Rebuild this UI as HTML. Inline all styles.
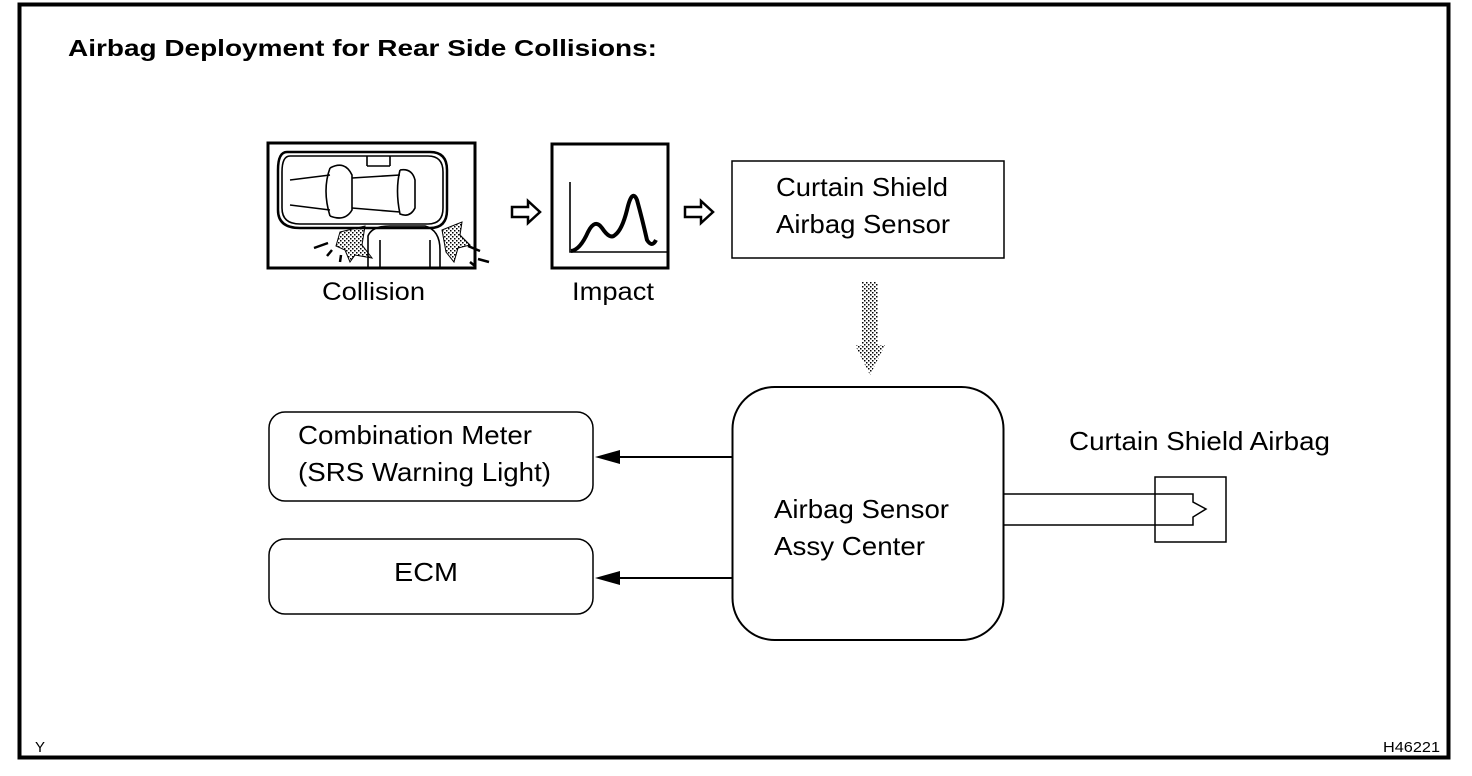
<!DOCTYPE html>
<html><head><meta charset="utf-8"><style>
html,body{margin:0;padding:0;background:#fff;}
svg{display:block;}
text{font-family:"Liberation Sans",Arial,sans-serif;fill:#000;}
</style></head><body>
<svg width="1472" height="776" viewBox="0 0 1472 776" xmlns="http://www.w3.org/2000/svg">
<defs>
<pattern id="dots" width="4" height="4" patternUnits="userSpaceOnUse">
<rect x="0" y="0" width="1.5" height="1.5" fill="#000"/><rect x="2" y="2" width="1.5" height="1.5" fill="#000"/>
</pattern>
</defs>
<rect x="19.5" y="4.5" width="1429" height="753" fill="none" stroke="#000" stroke-width="4"/>
<text x="68" y="56" font-size="23" font-weight="bold" textLength="589" lengthAdjust="spacingAndGlyphs">Airbag Deployment for Rear Side Collisions:</text>

<rect x="268" y="143" width="207" height="125" fill="none" stroke="#000" stroke-width="3"/>
<g fill="none" stroke="#000" stroke-width="1.6">
<path d="M287 152 L430 152 Q447 152 447 170 L447 210 Q447 228 430 228 L300 228 Q278 228 278 210 L278 170 Q278 152 287 152 Z" stroke-width="2.5"/>
<path d="M290 156 L428 156 Q443 156 443 172 L443 208 Q443 224 428 224 L300 224 Q282 224 282 208 L282 172 Q282 156 290 156 Z"/>
<path d="M330 168 Q322 190 330 216"/><path d="M330 168 Q345 160 352 175 L352 210 Q345 222 330 216"/>
<path d="M400 170 Q412 168 415 180 L415 208 Q410 218 400 214 Q395 190 400 170"/>
<path d="M290 180 L330 175 M290 205 L330 210 M352 178 L400 175 M352 208 L400 212"/>
<path d="M367 156 L367 166 M390 156 L390 166 M367 166 L390 166"/>
<path d="M368 269 L368 236 Q372 226 390 226 L425 226 Q440 230 440 250 L440 269"/>
<path d="M380 269 L380 240 M430 269 L430 240"/>
</g>
<polygon points="340,232 365,226 362,245 372,258 355,255 350,262 345,250 336,246" fill="url(#dots)" stroke="#000" stroke-width="1"/>
<polygon points="442,230 462,222 460,235 470,245 458,248 454,262 446,252" fill="url(#dots)" stroke="#000" stroke-width="1"/>
<g stroke="#000" stroke-width="2.5">
<path d="M314 248 L328 243 M327 256 L332 250 M340 262 L341 255 M468 246 L480 251 M478 259 L489 262 M470 262 L475 266"/>
</g>
<text x="322" y="300" font-size="25" textLength="103" lengthAdjust="spacingAndGlyphs">Collision</text>

<rect x="552" y="144" width="116" height="124" fill="none" stroke="#000" stroke-width="3"/>
<path d="M570 182 L570 252 L668 252" fill="none" stroke="#000" stroke-width="1.6"/>
<path d="M571 251 Q580 250 588 232 Q595 218 602 228 Q610 240 615 235 Q622 230 627 210 Q632 188 637 200 Q642 218 647 240 Q652 248 656 240" fill="none" stroke="#000" stroke-width="4"/>
<text x="572" y="300" font-size="25" textLength="82" lengthAdjust="spacingAndGlyphs">Impact</text>

<polygon points="512,207 528,207 528,201 540,212 528,223 528,217 512,217" fill="#fff" stroke="#000" stroke-width="2.5"/>
<polygon points="685,207 701,207 701,201 713,212 701,223 701,217 685,217" fill="#fff" stroke="#000" stroke-width="2.5"/>

<rect x="732" y="161" width="272" height="97" fill="none" stroke="#000" stroke-width="1.5"/>
<text x="776" y="196" font-size="26" textLength="172" lengthAdjust="spacingAndGlyphs">Curtain Shield</text>
<text x="776" y="233" font-size="26" textLength="174" lengthAdjust="spacingAndGlyphs">Airbag Sensor</text>

<polygon points="862,282 878,282 878,345 885,345 870,375 855,345 862,345" fill="url(#dots)"/>

<rect x="732.5" y="387" width="271" height="253" rx="42" fill="none" stroke="#000" stroke-width="2"/>
<text x="774" y="518" font-size="26" textLength="175" lengthAdjust="spacingAndGlyphs">Airbag Sensor</text>
<text x="774" y="555" font-size="26" textLength="151" lengthAdjust="spacingAndGlyphs">Assy Center</text>

<rect x="269" y="412" width="324" height="89" rx="16" fill="none" stroke="#000" stroke-width="1.5"/>
<text x="298" y="444" font-size="26" textLength="234" lengthAdjust="spacingAndGlyphs">Combination Meter</text>
<text x="298" y="481" font-size="26" textLength="253" lengthAdjust="spacingAndGlyphs">(SRS Warning Light)</text>
<rect x="269" y="539" width="324" height="75" rx="16" fill="none" stroke="#000" stroke-width="1.5"/>
<text x="394" y="581" font-size="26" textLength="64" lengthAdjust="spacingAndGlyphs">ECM</text>

<line x1="732" y1="457" x2="615" y2="457" stroke="#000" stroke-width="2"/>
<polygon points="595,457 620,450 620,464" fill="#000"/>
<line x1="732" y1="578" x2="615" y2="578" stroke="#000" stroke-width="2"/>
<polygon points="595,578 620,571 620,585" fill="#000"/>

<text x="1069" y="450" font-size="26" textLength="261" lengthAdjust="spacingAndGlyphs">Curtain Shield Airbag</text>
<rect x="1155" y="477" width="71" height="65" fill="none" stroke="#000" stroke-width="1.5"/>
<path d="M1004 494 L1193 494 L1193 502 L1206 509 L1193 517 L1193 525 L1004 525" fill="none" stroke="#000" stroke-width="1.5"/>

<text x="35" y="752" font-size="15">Y</text>
<text x="1383" y="752" font-size="15" textLength="57" lengthAdjust="spacingAndGlyphs">H46221</text>
</svg>
</body></html>
